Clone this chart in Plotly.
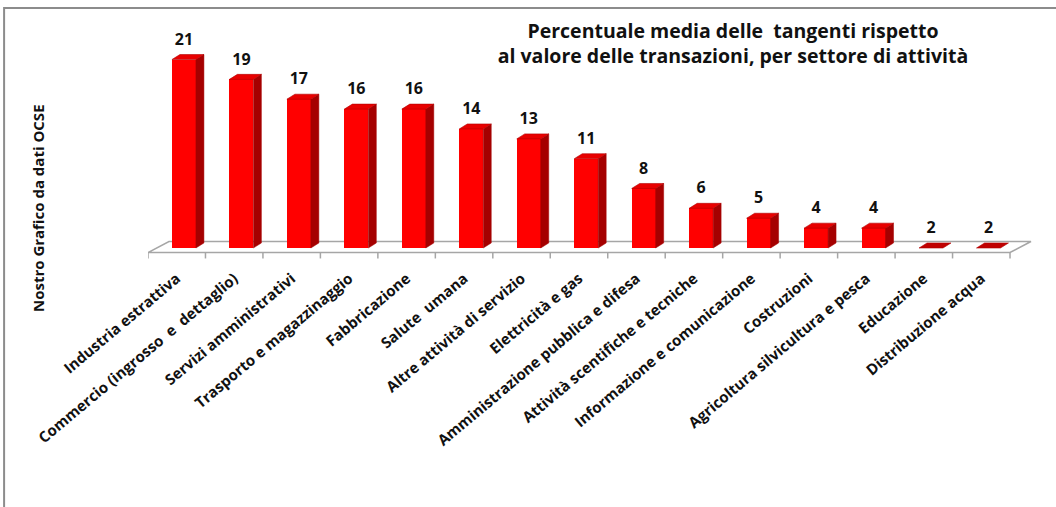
import plotly.graph_objects as go

categories = [
    "Industria estrattiva",
    "Commercio (ingrosso\u00a0 e\u00a0 dettaglio)",
    "Servizi amministrativi",
    "Trasporto e magazzinaggio",
    "Fabbricazione",
    "Salute\u00a0 umana",
    "Altre attività di servizio",
    "Elettricità e gas",
    "Amministrazione pubblica e difesa",
    "Attività scentifiche e tecniche",
    "Informazione e comunicazione",
    "Costruzioni",
    "Agricoltura silvicultura e pesca",
    "Educazione",
    "Distribuzione acqua",
]
values = [21, 19, 17, 16, 16, 14, 13, 11, 8, 6, 5, 4, 4, 2, 2]

title_text = ("<b>Percentuale media delle\u00a0 tangenti rispetto</b><br>"
              "<b>al valore delle transazioni, per settore di attività</b>")
ytitle_text = "<b>Nostro Grafico da dati OCSE</b>"

# geometry / style constants
FONT = "Open Sans"
BASE = 2.0            # axis floor value
BAR_W = 0.417
BAR_OFF = -0.083
DEPTH_X = 0.139       # bar depth (x units)
DEPTH_Y = 0.504       # bar depth (y units)
FLOOR_Y = 1.546
FLOOR_DX = 0.365
FLOOR_DY = 1.109
XR = [-0.5, 14.9]
YR = [0.5887, 23.976]

n = len(categories)
idx = list(range(n))
heights = [v - BASE for v in values]

fig = go.Figure()

fig.add_trace(go.Bar(
    x=idx, y=heights, base=BASE, width=BAR_W, offset=BAR_OFF,
    marker=dict(color="#FF0000", line=dict(width=0)),
    hoverinfo="skip", showlegend=False,
))

fig.add_trace(go.Scatter(
    x=[i + BAR_OFF + BAR_W / 2 for i in idx],
    y=[v + 1.9 for v in values],
    mode="text",
    text=[f"<b>{v}</b>" for v in values],
    textposition="middle center",
    textfont=dict(family=FONT, size=16, color="#111111"),
    hoverinfo="skip", showlegend=False,
))

shapes = []
# floor
x0, x1 = -0.5, n - 0.5
shapes.append(dict(
    type="path", xref="x", yref="y", layer="below",
    path=(f"M{x0},{FLOOR_Y} L{x1},{FLOOR_Y} L{x1 + FLOOR_DX},{FLOOR_Y + FLOOR_DY} "
          f"L{x0 + FLOOR_DX},{FLOOR_Y + FLOOR_DY} Z"),
    fillcolor="white", line=dict(color="#A6A6A6", width=1.5),
))
# ticks at category boundaries
for k in range(n + 1):
    xb = k - 0.5
    shapes.append(dict(
        type="line", xref="x", yref="y", layer="below",
        x0=xb, x1=xb, y0=FLOOR_Y, y1=FLOOR_Y - 0.6,
        line=dict(color="#A6A6A6", width=1.5),
    ))
# 3D faces
for i, v in zip(idx, values):
    left = i + BAR_OFF
    right = left + BAR_W
    side = (f"M{right},{BASE} L{right + DEPTH_X},{BASE + DEPTH_Y} "
            f"L{right + DEPTH_X},{v + DEPTH_Y} L{right},{v} Z")
    if v > BASE:
        shapes.append(dict(type="path", xref="x", yref="y", layer="above", path=side,
                           fillcolor="#A50000", line=dict(color="#A50000", width=0.5)))
    top = (f"M{left},{v} L{right},{v} L{right + DEPTH_X},{v + DEPTH_Y} "
           f"L{left + DEPTH_X},{v + DEPTH_Y} Z")
    top_col = "#E80000" if v > BASE else "#C00000"
    shapes.append(dict(type="path", xref="x", yref="y", layer="above", path=top,
                       fillcolor=top_col, line=dict(color="#B00000", width=0.6)))
# chart border
shapes.append(dict(
    type="rect", xref="paper", yref="paper",
    x0=-0.1626, x1=1.3, y0=-1.3, y1=1.0948,
    line=dict(color="#8C8C8C", width=2), fillcolor="rgba(0,0,0,0)", layer="below",
))

fig.update_layout(
    width=1056, height=507,
    margin=dict(l=148, r=22.5, t=30, b=245, pad=0),
    paper_bgcolor="white", plot_bgcolor="white",
    font=dict(family=FONT, color="#111111"),
    showlegend=False,
    shapes=shapes,
    bargap=0,
    xaxis=dict(
        range=XR, tickmode="array", tickvals=idx, ticktext=categories,
        tickangle=-40, showgrid=False, zeroline=False, showline=False,
        ticks="", automargin=False, ticklabelstandoff=4,
        tickfont=dict(family=FONT, size=15, color="#111111", weight="bold"),
        fixedrange=True,
    ),
    yaxis=dict(
        range=YR, showticklabels=False, showgrid=False, zeroline=False,
        showline=False, ticks="", automargin=False, fixedrange=True,
    ),
    title=dict(
        text=title_text, x=733 / 1056, xanchor="center",
        y=1 - 38 / 507, yanchor="middle", xref="container", yref="container",
        font=dict(family=FONT, size=19.5, color="#111111"),
    ),
    annotations=[dict(
        text=ytitle_text, xref="paper", yref="paper",
        x=(38 - 148) / (1033.5 - 148), y=(262 - 208) / (262 - 30),
        xanchor="center", yanchor="middle", textangle=-90, showarrow=False,
        font=dict(family=FONT, size=15, color="#111111"),
    )],
)

fig.write_html("out.html")
